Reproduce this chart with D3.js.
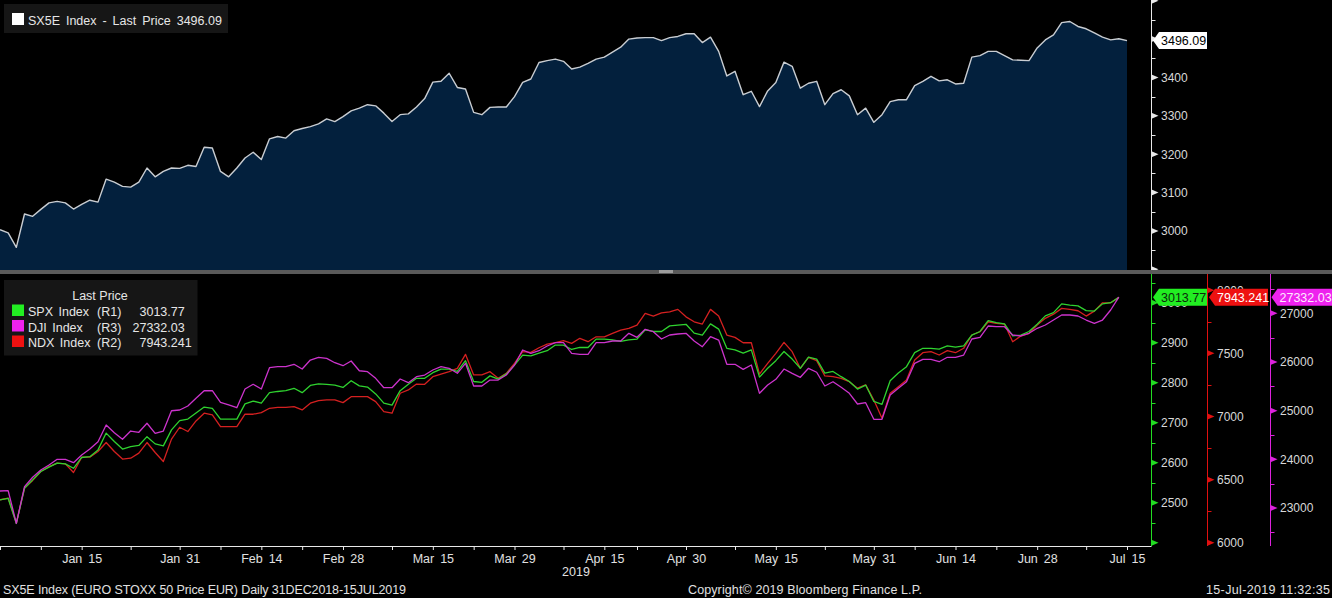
<!DOCTYPE html>
<html><head><meta charset="utf-8">
<script src="https://cdn.jsdelivr.net/npm/d3@7"></script>
<style>
html,body{margin:0;padding:0;background:#000;overflow:hidden;}
svg{display:block;}
text{font-family:"Liberation Sans",Arial,sans-serif;}
</style></head><body>
<svg id="c" width="1332" height="598"></svg>
<script>
// ---------------- data ----------------
const startDate = "2018-12-31", endDate = "2019-07-15";
const holidays = ["2019-01-01", "2019-04-19"];

const sx5e = [3003,2995,2957,3044,3038,3056,3073,3077,3073,3057,
3069,3080,3075,3135,3127,3116,3114,3127,3164,3141,
3155,3164,3163,3171,3168,3218,3216,3155,3141,3164,
3190,3205,3186,3240,3246,3242,3261,3267,3272,3279,
3292,3285,3298,3313,3320,3329,3326,3307,3285,3303,
3305,3323,3345,3388,3390,3411,3374,3370,3309,3303,
3322,3323,3323,3350,3387,3396,3439,3444,3448,3442,
3422,3427,3437,3448,3453,3466,3479,3500,3503,3504,
3504,3496,3504,3507,3514,3514,3491,3505,3468,3404,
3416,3355,3364,3324,3365,3387,3440,3429,3372,3385,
3390,3329,3358,3368,3352,3303,3320,3283,3303,3337,
3342,3342,3379,3390,3403,3391,3394,3383,3385,3453,
3457,3468,3468,3457,3446,3445,3444,3477,3498,3511,
3543,3546,3533,3527,3516,3505,3498,3501,3496.09];

const spx = [2507,2511,2448,2536,2557,2578,2589,2599,2597,2586,
2613,2615,2632,2674,2653,2634,2640,2643,2665,2647,
2642,2682,2705,2709,2724,2739,2736,2709,2709,2709,
2747,2754,2749,2775,2778,2780,2786,2775,2793,2797,
2796,2794,2788,2805,2792,2789,2772,2749,2744,2780,
2796,2811,2811,2825,2834,2834,2828,2855,2803,2801,
2817,2809,2822,2844,2869,2867,2874,2880,2894,2894,
2883,2888,2888,2909,2909,2907,2903,2907,2909,2932,
2928,2928,2942,2944,2946,2924,2919,2947,2934,2886,
2882,2874,2882,2814,2836,2855,2878,2859,2836,2864,
2859,2824,2828,2815,2803,2784,2794,2753,2746,2805,
2824,2840,2875,2886,2886,2884,2892,2889,2892,2919,
2928,2955,2950,2947,2917,2919,2928,2946,2967,2975,
2997,2994,2992,2980,2979,2997,3000,3013.77];

const dji = [23348,23354,22684,23437,23630,23780,23883,24000,24000,23930,
24088,24211,24361,24705,24546,24411,24581,24555,24740,24534,
24581,24998,25013,25095,25253,25409,25409,25171,25116,25060,
25444,25541,25444,25882,25903,25903,25952,25855,26040,26096,
26075,25985,25923,26020,25820,25800,25664,25471,25471,25650,
25574,25697,25732,25835,25903,25870,25767,25972,25506,25506,
25629,25629,25732,25938,26246,26178,26231,26328,26396,26396,
26178,26157,26157,26396,26396,26431,26431,26589,26507,26671,
26622,26472,26554,26575,26589,26431,26314,26519,26451,25952,
25952,25849,25938,25356,25527,25644,25855,25767,25685,25870,
25788,25506,25594,25479,25356,25136,25163,24822,24822,25321,
25459,25594,25972,26055,26055,26005,26096,26096,26143,26472,
26507,26739,26725,26725,26554,26534,26589,26692,26760,26862,
26965,26965,26945,26862,26794,26862,27068,27332.03];

const ndx = [6341,6354,6157,6433,6494,6565,6604,6631,6625,6557,
6678,6678,6723,6794,6723,6663,6670,6710,6794,6715,
6644,6821,6915,6881,6965,7026,7013,6920,6920,6920,
7018,7018,7031,7065,7073,7073,7078,7052,7105,7126,
7131,7131,7110,7157,7157,7157,7118,7039,7026,7184,
7210,7257,7255,7315,7336,7355,7381,7492,7329,7329,
7355,7302,7342,7421,7513,7508,7544,7573,7584,7600,
7579,7619,7592,7631,7631,7658,7684,7698,7724,7816,
7795,7821,7829,7848,7789,7750,7732,7848,7795,7645,
7626,7584,7584,7336,7421,7500,7587,7513,7381,7468,
7442,7321,7315,7302,7276,7224,7250,7131,6987,7184,
7236,7289,7447,7505,7513,7487,7521,7505,7540,7645,
7671,7750,7737,7732,7592,7637,7658,7724,7777,7810,
7856,7848,7837,7795,7834,7900,7900,7943.241];

const majorTickDates = ["2019-01-15","2019-01-31","2019-02-14","2019-02-28","2019-03-15","2019-03-29",
  "2019-04-15","2019-04-30","2019-05-15","2019-05-31","2019-06-14","2019-06-28","2019-07-15"];
const majorTickLabels = ["Jan 15","Jan 31","Feb 14","Feb 28","Mar 15","Mar 29",
  "Apr 15","Apr 30","May 15","May 31","Jun 14","Jun 28","Jul 15"];
const minorTickDates = ["2018-12-31","2019-01-08","2019-01-23","2019-02-07","2019-02-21","2019-03-08",
  "2019-03-22","2019-04-08","2019-04-22","2019-05-08","2019-05-23","2019-06-07","2019-06-21","2019-07-08"];

const topLabelTicks = [3000,3100,3200,3300,3400];
const topMajorTicks = [2900,3000,3100,3200,3300,3400,3500,3600];
const topMinorTicks = [2950,3050,3150,3250,3350,3450,3550];
const spxLabelTicks = [2500,2600,2700,2800,2900,3000];
const spxMajorTicks = [2400,2500,2600,2700,2800,2900,3000];
const spxMinorTicks = [2450,2550,2650,2750,2850,2950,3050];
const ndxLabelTicks = [6000,6500,7000,7500,8000];
const ndxMinorTicks = [6250,6750,7250,7750];
const djiLabelTicks = [23000,24000,25000,26000,27000];
const djiMinorTicks = [22500,23500,24500,25500,26500,27500];

const legendRows = [
  {name:"SPX Index", axis:"(R1)", value:"3013.77", color:"#22ee22"},
  {name:"DJI Index", axis:"(R3)", value:"27332.03", color:"#ee22ee"},
  {name:"NDX Index", axis:"(R2)", value:"7943.241", color:"#ee1111"}
];

// ---------------- calendar ----------------
const days = (function(){
  const out = [], hol = new Set(holidays);
  const t0 = Date.parse(startDate + "T00:00:00Z"), t1 = Date.parse(endDate + "T00:00:00Z");
  for (let t = t0; t <= t1; t += 86400000) {
    const d = new Date(t), wd = d.getUTCDay();
    if (wd === 0 || wd === 6) continue;
    const s = d.toISOString().slice(0,10);
    if (hol.has(s)) continue;
    out.push(s);
  }
  return out;
})();

// ---------------- layout ----------------
const svg = d3.select("#c");
const TOP0 = 0, TOP1 = 270, BOT0 = 274, BOT1 = 546;
const PLOT_R = 1127, AX1 = 1151.5, AX2 = 1207.5, AX3 = 1270.5;
const LABEL_COL = "#d8d8d8";

svg.append("rect").attr("width",1332).attr("height",598).attr("fill","#000");

const x = d3.scalePoint().domain(days).range([0, PLOT_R]);
const yTop = d3.scaleLinear().domain([2898, 3602]).range([TOP1, TOP0]);
const ySpx = d3.scaleLinear().domain([2391.7, 3071.7]).range([BOT1, BOT0]);
const yNdx = d3.scaleLinear().domain([5975, 8128]).range([BOT1, BOT0]);
const yDji = d3.scaleLinear().domain([22218, 27808]).range([BOT1, BOT0]);

// ---------------- top panel ----------------
const area = d3.area().x((d,i)=>x(days[i])).y0(TOP1).y1(d=>yTop(d));
svg.append("path").datum(sx5e).attr("d", area).attr("fill", "#03203d");
const topLine = d3.line().x((d,i)=>x(days[i])).y(d=>yTop(d));
svg.append("path").datum(sx5e).attr("d", topLine).attr("fill","none")
  .attr("stroke","#c9cdd2").attr("stroke-width",1.4).attr("stroke-linejoin","round");

function rightAxis(scale, x0, yA, yB, color, labelVals, majorVals, minorVals, fmt){
  const g = svg.append("g");
  g.append("line").attr("x1",x0).attr("x2",x0).attr("y1",yA).attr("y2",yB)
    .attr("stroke",color).attr("stroke-width",1).attr("shape-rendering","crispEdges");
  const ax = g.append("g").attr("transform",`translate(${x0},0)`)
    .call(d3.axisRight(scale).tickValues(labelVals).tickSize(0).tickPadding(9.5).tickFormat(fmt || d3.format("d")));
  ax.select(".domain").remove();
  ax.selectAll("text").attr("fill",LABEL_COL).attr("font-size",12)
    .attr("font-family",'"Liberation Sans",Arial,sans-serif');
  majorVals.forEach(v=>{
    const yy = scale(v);
    g.append("path").attr("d",`M${x0},${yy-3}L${x0+7},${yy}L${x0},${yy+3}Z`).attr("fill",color);
  });
  minorVals.forEach(v=>{
    const yy = Math.round(scale(v))+0.5;
    g.append("line").attr("x1",x0).attr("x2",x0+4).attr("y1",yy).attr("y2",yy)
      .attr("stroke",color).attr("stroke-width",1);
  });
  return g;
}

rightAxis(yTop, AX1, TOP0, TOP1, "#e8e8e8", topLabelTicks, topMajorTicks, topMinorTicks);

// top legend
svg.append("rect").attr("x",4).attr("y",4).attr("width",224).attr("height",29).attr("fill","#161616");
svg.append("rect").attr("x",12).attr("y",13).attr("width",12).attr("height",12).attr("fill","#ffffff");
svg.append("text").attr("x",28).attr("y",25).attr("fill","#e6e6e6").attr("font-size",12.5)
  .style("word-spacing","2.5px").text("SX5E Index - Last Price 3496.09");

// separator
svg.append("rect").attr("x",0).attr("y",270).attr("width",1332).attr("height",4).attr("fill","#5a5a5a");
svg.append("rect").attr("x",659).attr("y",270).attr("width",14).attr("height",3).attr("fill","#9c9c9c");

// ---------------- bottom panel ----------------
rightAxis(ySpx, AX1, BOT0, BOT1, "#22dd22", spxLabelTicks, spxMajorTicks, spxMinorTicks);
rightAxis(yNdx, AX2, BOT0, BOT1, "#e01010", ndxLabelTicks, ndxLabelTicks, ndxMinorTicks);
rightAxis(yDji, AX3, BOT0, BOT1, "#dd22dd", djiLabelTicks, djiLabelTicks, djiMinorTicks);

const mkLine = ys => d3.line().x((d,i)=>x(days[i])).y(d=>ys(d));
svg.append("path").datum(ndx).attr("d", mkLine(yNdx)).attr("fill","none")
  .attr("stroke","#d42020").attr("stroke-width",1.3).attr("stroke-linejoin","round");
svg.append("path").datum(spx).attr("d", mkLine(ySpx)).attr("fill","none")
  .attr("stroke","#2fd22f").attr("stroke-width",1.3).attr("stroke-linejoin","round");
svg.append("path").datum(dji).attr("d", mkLine(yDji)).attr("fill","none")
  .attr("stroke","#cc33cc").attr("stroke-width",1.3).attr("stroke-linejoin","round");

// bottom legend
svg.append("rect").attr("x",4).attr("y",280).attr("width",193.5).attr("height",75.5).attr("fill","#161616");
svg.append("text").attr("x",100).attr("y",300).attr("text-anchor","middle").attr("fill","#e6e6e6")
  .attr("font-size",12.5).text("Last Price");
const rowY = [316, 331.5, 347];
const valueX = [139.5, 132.5, 139.5];
legendRows.forEach((r,i)=>{
  svg.append("rect").attr("x",12).attr("y",rowY[i]-11.5).attr("width",12).attr("height",11.5).attr("fill",r.color);
  svg.append("text").attr("x",28).attr("y",rowY[i]).attr("fill","#e6e6e6").attr("font-size",12.5)
    .style("word-spacing","2px").text(r.name);
  svg.append("text").attr("x",97).attr("y",rowY[i]).attr("fill","#e6e6e6").attr("font-size",12.5).text(r.axis);
  svg.append("text").attr("x",valueX[i]).attr("y",rowY[i]).attr("fill","#e6e6e6").attr("font-size",12.5).text(r.value);
});

// value tags
function tag(x0, x1, yv, fill, tc, label){
  svg.append("path").attr("d",`M${x0},${yv}L${x0+6},${yv-8.5}L${x1},${yv-8.5}L${x1},${yv+8.5}L${x0+6},${yv+8.5}Z`)
    .attr("fill",fill);
  svg.append("text").attr("x",x0+8).attr("y",yv+4.5).attr("fill",tc).attr("font-size",12.5).text(label);
}
tag(1153, 1207, yTop(sx5e[sx5e.length-1]), "#ffffff", "#000000", "3496.09");
tag(1153, 1207, ySpx(spx[spx.length-1]), "#22ee22", "#0c2a0c", "3013.77");
tag(1209, 1268, yNdx(ndx[ndx.length-1]), "#ee1111", "#ffffff", "7943.241");
tag(1271.5, 1336, yDji(dji[dji.length-1]), "#ee22ee", "#ffe8ff", "27332.03");

// ---------------- x axis ----------------
svg.append("line").attr("x1",0).attr("x2",AX1).attr("y1",BOT1+0.5).attr("y2",BOT1+0.5)
  .attr("stroke","#e8e8e8").attr("stroke-width",1);
const xMaj = svg.append("g").attr("transform",`translate(0,${BOT1})`)
  .call(d3.axisBottom(x).tickValues(majorTickDates).tickSize(4).tickPadding(4)
    .tickFormat((d,i)=>majorTickLabels[i]));
xMaj.select(".domain").remove();
xMaj.selectAll("line").attr("stroke","#e8e8e8");
xMaj.selectAll("text").attr("fill","#e0e0e0").attr("font-size",12.5).style("word-spacing","2.5px");
const xMin = svg.append("g").attr("transform",`translate(0,${BOT1})`)
  .call(d3.axisBottom(x).tickValues(minorTickDates).tickSize(4).tickFormat(""));
xMin.select(".domain").remove();
xMin.selectAll("line").attr("stroke","#e8e8e8");

svg.append("text").attr("x",576).attr("y",576).attr("text-anchor","middle").attr("fill","#e0e0e0")
  .attr("font-size",12.5).text("2019");

// footer
svg.append("text").attr("x",3).attr("y",594).attr("fill","#e0e0e0").attr("font-size",12.5)
  .attr("textLength",403).attr("lengthAdjust","spacing")
  .text("SX5E Index (EURO STOXX 50 Price EUR)  Daily 31DEC2018-15JUL2019");
svg.append("text").attr("x",688).attr("y",594).attr("fill","#e0e0e0").attr("font-size",12.5)
  .attr("textLength",234).attr("lengthAdjust","spacing")
  .text("Copyright\u00A9 2019 Bloomberg Finance L.P.");
svg.append("text").attr("x",1206).attr("y",594).attr("fill","#e0e0e0").attr("font-size",12.5)
  .attr("textLength",124).attr("lengthAdjust","spacing")
  .text("15-Jul-2019 11:32:35");
</script>
</body></html>
